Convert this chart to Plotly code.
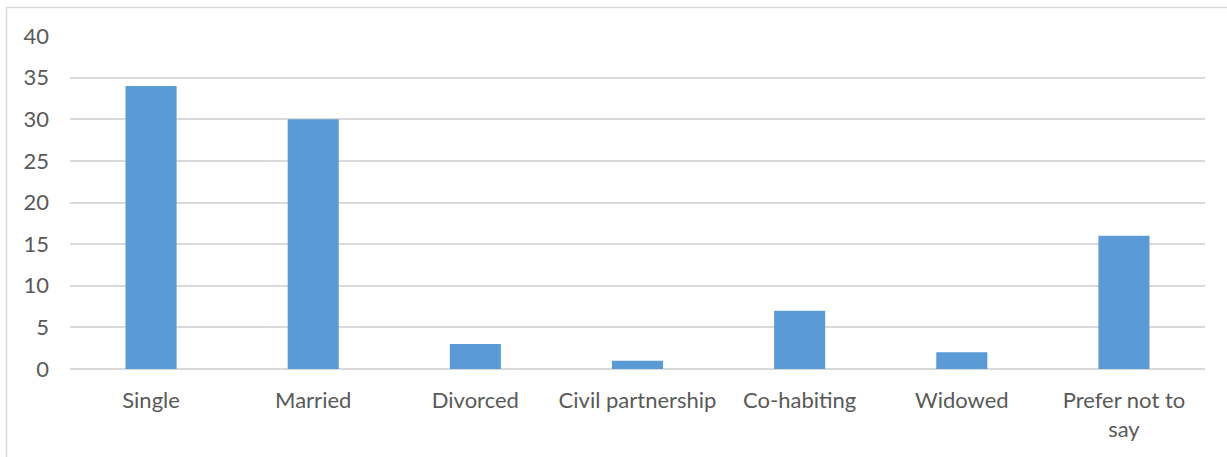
import plotly.graph_objects as go

# Marital status counts
categories = ["Single", "Married", "Divorced", "Civil partnership",
              "Co-habiting", "Widowed", "Prefer not to<br>say"]
counts = [34, 30, 3, 1, 7, 2, 16]
y_ticks = [0, 5, 10, 15, 20, 25, 30, 35, 40]

W, H = 1227, 457
L, R, T, B = 70, 22, 36, 88
pw, ph = W - L - R, H - T - B

fig = go.Figure(go.Bar(
    x=categories,
    y=counts,
    marker=dict(color="#5B9BD5", line=dict(width=0)),
))

def px_x(p):
    return (p - L) / pw

def px_y(p):
    return (H - B - p) / ph

fig.update_layout(
    width=W, height=H,
    margin=dict(l=L, r=R, t=T, b=B, autoexpand=False),
    paper_bgcolor="white",
    plot_bgcolor="white",
    bargap=0.685,
    showlegend=False,
    font=dict(family="Lato, Carlito, sans-serif", size=22, color="#595959"),
    xaxis=dict(
        showgrid=False,
        showline=False,
        ticks="",
        tickfont=dict(size=22, color="#595959"),
        ticklabelstandoff=16,
    ),
    yaxis=dict(
        range=[0, 40],
        tickvals=y_ticks,
        showgrid=True,
        gridcolor="#D9D9D9",
        gridwidth=1.5,
        zeroline=True,
        zerolinecolor="#D9D9D9",
        zerolinewidth=1.5,
        showline=False,
        ticks="",
        ticklabelstandoff=20,
        tickfont=dict(size=22, color="#595959"),
    ),
    shapes=[
        # outer chart frame (top and left edges visible)
        dict(type="rect", xref="paper", yref="paper",
             x0=px_x(6.5), x1=px_x(1240), y0=px_y(7.5), y1=px_y(480),
             line=dict(color="#D9D9D9", width=1.5), layer="below"),
    ],
)

fig.write_html("out.html")
